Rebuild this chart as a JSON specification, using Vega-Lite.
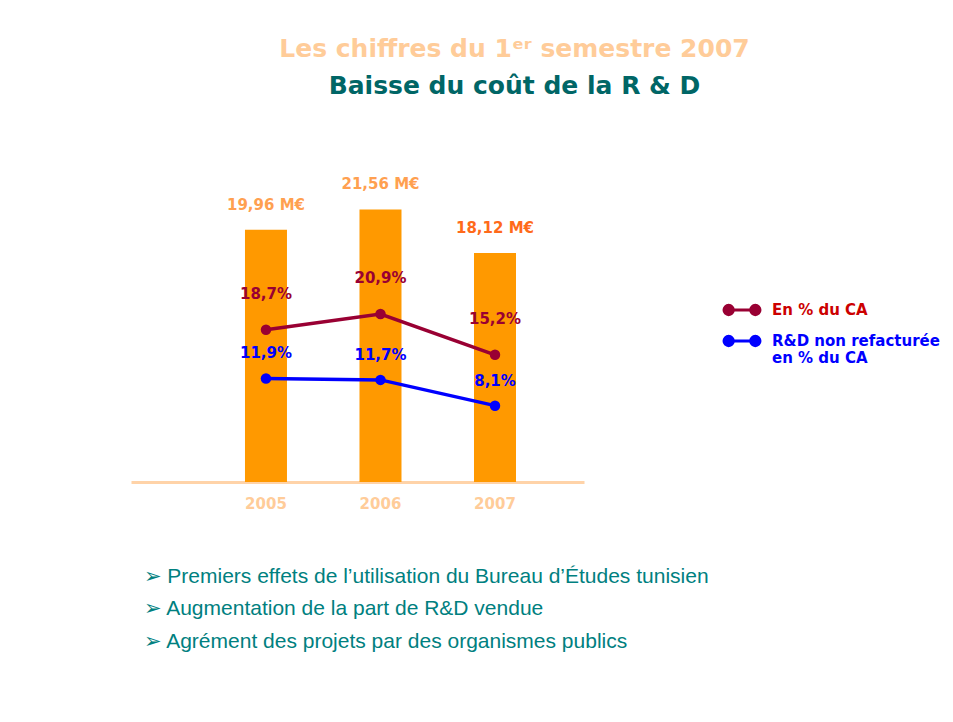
{
  "$schema": "https://vega.github.io/schema/vega-lite/v6.json",
  "width": 453,
  "height": 316,
  "autosize": {"type": "none"},
  "padding": {"left": 131, "top": 166, "right": 369, "bottom": 240},
  "background": "white",
  "title": {
    "text": "Les chiffres du 1ᵉʳ semestre 2007",
    "subtitle": "Baisse du coût de la R & D",
    "anchor": "middle",
    "frame": "group",
    "dx": 157,
    "offset": 67,
    "font": "DejaVu Sans",
    "fontSize": 25,
    "fontWeight": "bold",
    "color": "#ffcc99",
    "subtitleFont": "DejaVu Sans",
    "subtitleFontSize": 25,
    "subtitleFontWeight": "bold",
    "subtitleColor": "#006666",
    "subtitlePadding": 12
  },
  "config": {
    "view": {"stroke": null},
    "axis": {"grid": false},
    "text": {"font": "DejaVu Sans", "fontWeight": "bold", "fontSize": 15}
  },
  "datasets": {
    "bars": [
      {"year": "2005", "cout": 19.96, "label": "19,96 M€"},
      {"year": "2006", "cout": 21.56, "label": "21,56 M€"},
      {"year": "2007", "cout": 18.12, "label": "18,12 M€"}
    ],
    "lines": [
      {"year": "2005", "serie": "En % du CA", "pct": 18.7, "label": "18,7%"},
      {"year": "2006", "serie": "En % du CA", "pct": 20.9, "label": "20,9%"},
      {"year": "2007", "serie": "En % du CA", "pct": 15.2, "label": "15,2%"},
      {"year": "2005", "serie": "R&D non refacturée en % du CA", "pct": 11.9, "label": "11,9%"},
      {"year": "2006", "serie": "R&D non refacturée en % du CA", "pct": 11.7, "label": "11,7%"},
      {"year": "2007", "serie": "R&D non refacturée en % du CA", "pct": 8.1, "label": "8,1%"}
    ]
  },
  "encoding": {
    "x": {
      "field": "year",
      "type": "nominal",
      "scale": {"paddingInner": 0, "paddingOuter": 0.478, "align": 0.71},
      "axis": {
        "domainColor": "#ffd3a8",
        "domainWidth": 3,
        "ticks": false,
        "labelAngle": 0,
        "labelColor": "#ffcc99",
        "labelFont": "DejaVu Sans",
        "labelFontWeight": "bold",
        "labelFontSize": 15,
        "labelPadding": 14,
        "title": [
          "➢ Premiers effets de l’utilisation du Bureau d’Études tunisien",
          "➢ Augmentation de la part de R&D vendue",
          "➢ Agrément des projets par des organismes publics"
        ],
        "titleFont": "Liberation Sans",
        "titleFontWeight": "normal",
        "titleFontSize": 21,
        "titleColor": "#008080",
        "titleAnchor": "start",
        "titleAlign": "left",
        "titleBaseline": "middle",
        "titleLineHeight": 32.5,
        "titleX": 12,
        "titleY": 94
      }
    }
  },
  "layer": [
    {
      "data": {"name": "bars"},
      "layer": [
        {
          "mark": {"type": "bar", "size": 42, "color": "#ff9900"},
          "encoding": {
            "y": {"field": "cout", "type": "quantitative", "scale": {"domain": [0, 25], "nice": false}, "axis": null}
          }
        },
        {
          "mark": {"type": "text", "dy": -25, "baseline": "middle"},
          "encoding": {
            "y": {"field": "cout", "type": "quantitative"},
            "text": {"field": "label"},
            "color": {"condition": {"test": "datum.year == '2007'", "value": "#ff6a1a"}, "value": "#ffa050"}
          }
        }
      ]
    },
    {
      "data": {"name": "lines"},
      "encoding": {
        "y": {"field": "pct", "type": "quantitative", "scale": {"domain": [-2.56, 41.57], "nice": false, "zero": false}, "axis": null},
        "color": {
          "field": "serie",
          "type": "nominal",
          "scale": {"domain": ["En % du CA", "R&D non refacturée en % du CA"], "range": ["#990033", "#0000ff"]},
          "legend": {
            "title": null,
            "orient": "none",
            "legendX": 596,
            "legendY": 129,
            "padding": 0,
            "symbolType": "M-1,0H1M-1.35,0a0.35,0.35 0 1,0 0.7,0a0.35,0.35 0 1,0 -0.7,0M0.65,0a0.35,0.35 0 1,0 0.7,0a0.35,0.35 0 1,0 -0.7,0",
            "symbolSize": 710,
            "symbolStrokeWidth": 3,
            "labelOffset": 15,
            "labelFont": "DejaVu Sans",
            "labelFontWeight": "bold",
            "labelFontSize": 15,
            "labelLimit": 300,
            "rowPadding": 5,
            "labelExpr": "datum.label == 'En % du CA' ? datum.label : ['R&D non refacturée', 'en % du CA']",
            "encode": {
              "symbols": {"update": {"fill": {"signal": "datum.value == 'En % du CA' ? '#990033' : '#0000ff'"}}},
              "labels": {"update": {"fill": {"signal": "datum.value == 'En % du CA' ? '#cc0000' : '#0000ff'"}}}
            }
          }
        }
      },
      "layer": [
        {
          "mark": {"type": "line", "strokeWidth": 3.5, "point": {"filled": true, "size": 110}}
        },
        {
          "transform": [{"filter": "datum.serie == 'En % du CA'"}],
          "mark": {"type": "text", "dy": -36, "baseline": "middle"},
          "encoding": {"text": {"field": "label"}}
        },
        {
          "transform": [{"filter": "datum.serie != 'En % du CA'"}],
          "mark": {"type": "text", "dy": -25, "baseline": "middle"},
          "encoding": {"text": {"field": "label"}}
        }
      ]
    }
  ],
  "resolve": {"scale": {"y": "independent"}}
}
